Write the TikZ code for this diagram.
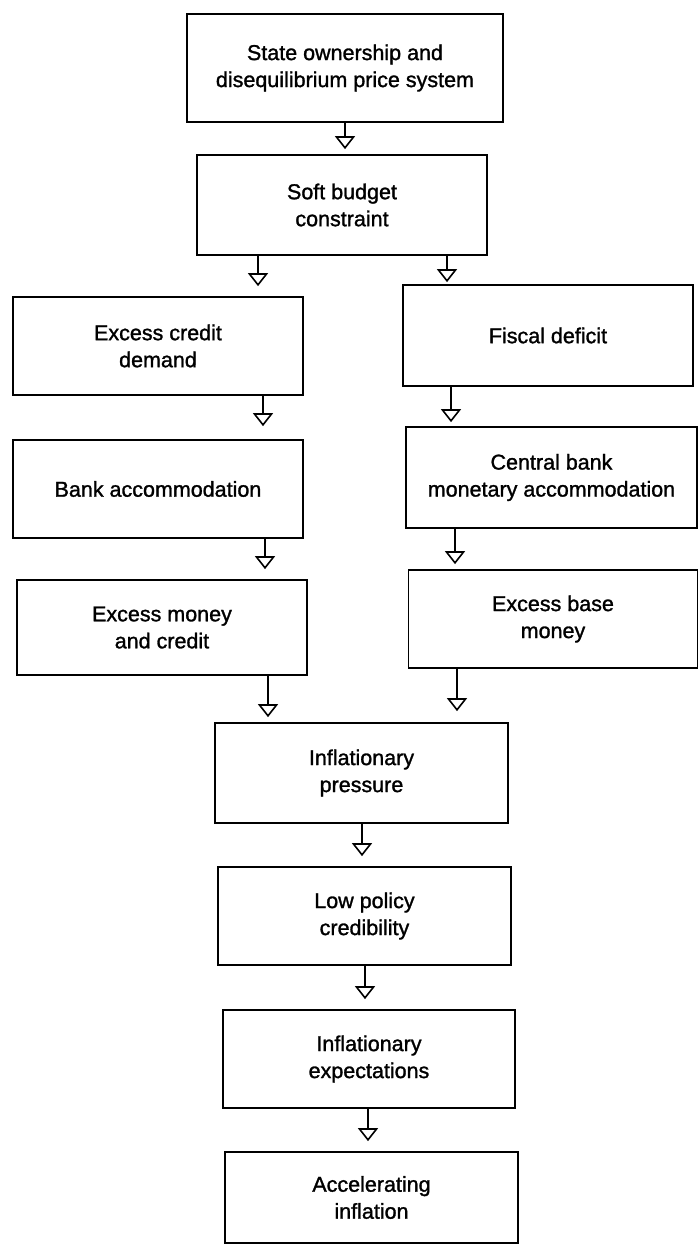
\documentclass[tikz,border=0pt]{standalone}
\usepackage{fontspec}
\setmainfont[BoldFont=Liberation Sans, BoldFeatures={FakeBold=1.3}]{Liberation Sans}
\usetikzlibrary{arrows.meta}
\begin{document}
\begin{tikzpicture}[x=1pt,y=-1pt,
  box/.style={draw, line width=1.7pt, rectangle, align=center, inner sep=0pt,
    font=\fontsize{21.5}{27}\selectfont\bfseries},
  arr/.style={line width=1.6pt, -{Triangle[open,width=20pt,length=13pt,line width=1.6pt]}}]
\useasboundingbox (0,0) rectangle (699,1248);
\node[box, minimum width=316pt, minimum height=108pt] (b1) at (345,68) {State ownership and\\disequilibrium price system};
\node[box, minimum width=290pt, minimum height=100pt] (b2) at (342,205) {Soft budget\\constraint};
\node[box, minimum width=290pt, minimum height=98pt] (b3L) at (158,346) {Excess credit\\demand};
\node[box, minimum width=290pt, minimum height=101pt] (b3R) at (548,335.5) {Fiscal deficit};
\node[box, minimum width=290pt, minimum height=98pt] (b4L) at (158,489) {Bank accommodation};
\node[box, minimum width=291pt, minimum height=101pt] (b4R) at (551.5,477.5) {Central bank\\monetary accommodation};
\node[box, minimum width=290pt, minimum height=95pt] (b5L) at (162,627.5) {Excess money\\and credit};
\node[box, minimum width=289pt, minimum height=98pt] (b5R) at (553,619) {Excess base\\money};
\node[box, minimum width=293pt, minimum height=100pt] (b6) at (361.5,773) {Inflationary\\pressure};
\node[box, minimum width=293pt, minimum height=98pt] (b7) at (364.5,916) {Low policy\\credibility};
\node[box, minimum width=292pt, minimum height=98pt] (b8) at (369,1059) {Inflationary\\expectations};
\node[box, minimum width=293pt, minimum height=91pt] (b9) at (371.5,1197.5) {Accelerating\\inflation};
\coordinate (x1) at (345,0);
\coordinate (x2L) at (258,0);
\coordinate (x2R) at (447,0);
\coordinate (x3L) at (263,0);
\coordinate (x3R) at (451,0);
\coordinate (x4L) at (265,0);
\coordinate (x4R) at (455,0);
\coordinate (x5L) at (268,0);
\coordinate (x5R) at (457,0);
\coordinate (x6) at (362,0);
\coordinate (x7) at (365,0);
\coordinate (x8) at (368,0);
\draw[arr, shorten >=5pt] (b1.south -| x1) -- (b2.north -| x1);
\draw[arr, shorten >=10pt] (b2.south -| x2L) -- (b3L.north -| x2L);
\draw[arr, shorten >=2pt] (b2.south -| x2R) -- (b3R.north -| x2R);
\draw[arr, shorten >=13pt] (b3L.south -| x3L) -- (b4L.north -| x3L);
\draw[arr, shorten >=4pt] (b3R.south -| x3R) -- (b4R.north -| x3R);
\draw[arr, shorten >=10pt] (b4L.south -| x4L) -- (b5L.north -| x4L);
\draw[arr, shorten >=5pt] (b4R.south -| x4R) -- (b5R.north -| x4R);
\draw[arr, shorten >=5pt] (b5L.south -| x5L) -- (b6.north -| x5L);
\draw[arr, shorten >=11pt] (b5R.south -| x5R) -- (b6.north -| x5R);
\draw[arr, shorten >=10pt] (b6.south -| x6) -- (b7.north -| x6);
\draw[arr, shorten >=10pt] (b7.south -| x7) -- (b8.north -| x7);
\draw[arr, shorten >=10pt] (b8.south -| x8) -- (b9.north -| x8);
\end{tikzpicture}
\end{document}
